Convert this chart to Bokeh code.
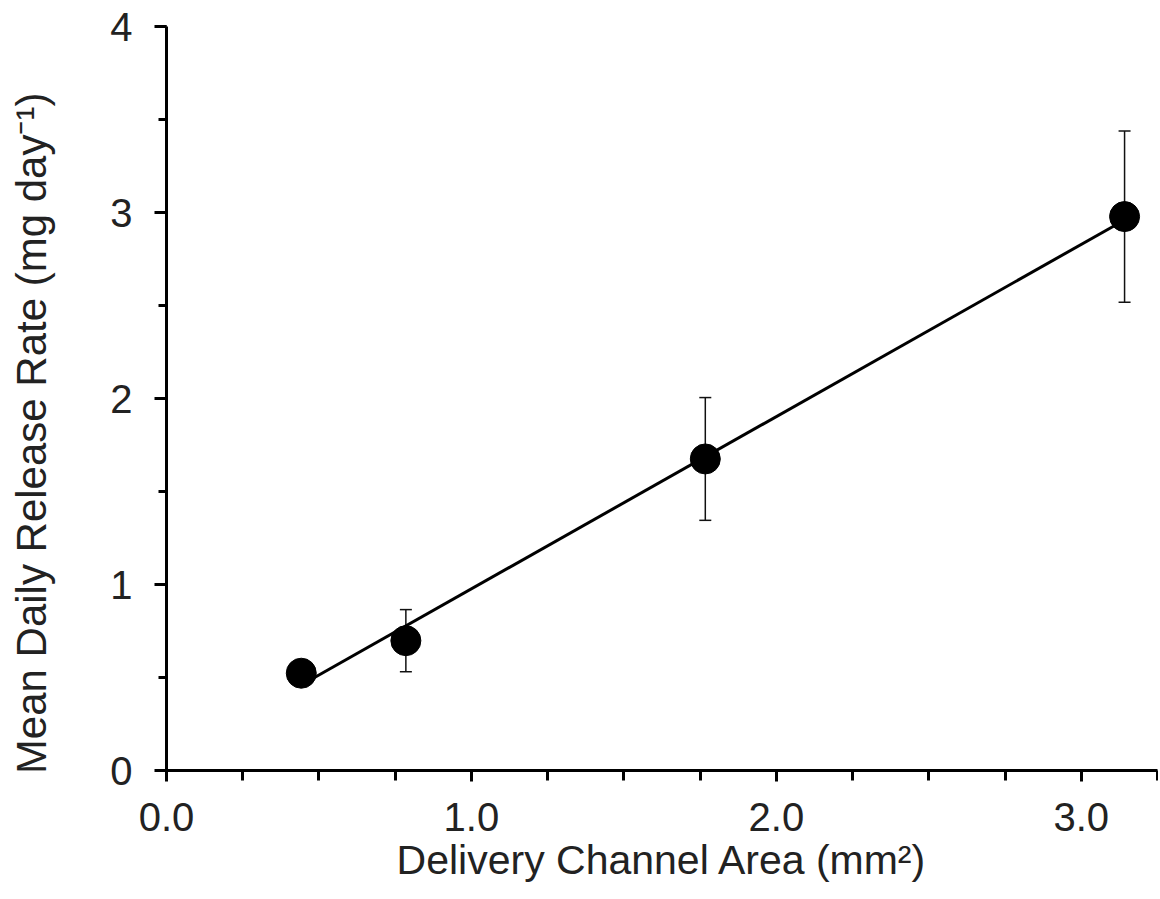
from bokeh.plotting import figure
from bokeh.layouts import row
from bokeh.models import (ColumnDataSource, Whisker, TeeHead, SingleIntervalTicker,
                          PrintfTickFormatter, Range1d)
from bokeh.core.properties import value
from bokeh.embed import file_html
from bokeh.resources import INLINE

# ---- data ----
area = [0.442, 0.785, 1.767, 3.142]          # delivery channel area, mm^2
rate = [0.523, 0.698, 1.675, 2.978]          # mean daily release rate, mg/day
sd = [0.0, 0.167, 0.330, 0.460]              # error (± value)
fit_x = [0.442, 3.142]                       # regression line ends
fit_y = [0.46, 2.96]
x_label = "Delivery Channel Area (mm\u00b2)"
y_label = "Mean Daily Release Rate (mg day\u207b\u00b9)"

FONT = "Liberation Sans"
TXT = "#222222"
H = 885
LEFT_W = 100

# ---- narrow strip holding the y-axis title (placed as in the reference) ----
t = figure(width=LEFT_W, height=H, output_backend="svg", toolbar_location=None,
           x_range=Range1d(0, LEFT_W), y_range=Range1d(0, H),
           x_axis_location=None, y_axis_location=None,
           min_border_left=0, min_border_right=0, min_border_top=0, min_border_bottom=0)
t.title.visible = False
t.outline_line_color = None
t.xgrid.visible = False
t.ygrid.visible = False
t.text(x=[31], y=[H - 484], text=[y_label], angle=1.5707963, text_align="center",
       text_baseline="middle", text_font=value(FONT), text_font_size="42px",
       text_color=TXT)

# ---- main chart ----
p = figure(width=1158 - LEFT_W, height=H, output_backend="svg", toolbar_location=None,
           x_range=Range1d(0, 3.25), y_range=Range1d(0, 4),
           min_border_left=166 - LEFT_W, min_border_right=1, min_border_top=26,
           min_border_bottom=112)
p.outline_line_color = None
p.xgrid.visible = False
p.ygrid.visible = False
p.background_fill_color = "white"
p.border_fill_color = "white"

# regression line
p.line(fit_x, fit_y, line_color="black", line_width=3)

# error bars (only where an error was visible)
ex = [a for a, s in zip(area, sd) if s > 0]
eu = [r + s for r, s in zip(rate, sd) if s > 0]
el = [r - s for r, s in zip(rate, sd) if s > 0]
esrc = ColumnDataSource(dict(x=ex, upper=eu, lower=el))
w = Whisker(source=esrc, base="x", upper="upper", lower="lower",
            line_color="#111111", line_width=1.5,
            upper_head=TeeHead(size=12, line_width=1.5, line_color="#111111"),
            lower_head=TeeHead(size=12, line_width=1.5, line_color="#111111"))
p.add_layout(w)

# points
p.scatter(area, rate, size=30, marker="circle", fill_color="black", line_color="black")

# axes
for ax in (p.xaxis[0], p.yaxis[0]):
    ax.axis_line_width = 3
    ax.axis_line_color = "black"
    ax.major_tick_line_width = 3
    ax.minor_tick_line_width = 3
    ax.major_tick_line_color = "black"
    ax.minor_tick_line_color = "black"
    ax.major_tick_in = 0
    ax.minor_tick_in = 0
    ax.major_label_text_font = FONT
    ax.major_label_text_font_size = "40px"
    ax.major_label_text_color = TXT
    ax.axis_label_text_font = FONT
    ax.axis_label_text_font_size = "41px"
    ax.axis_label_text_font_style = "normal"
    ax.axis_label_text_color = TXT

p.xaxis[0].ticker = SingleIntervalTicker(interval=1, num_minor_ticks=4)
p.xaxis[0].formatter = PrintfTickFormatter(format="%.1f")
p.xaxis[0].major_tick_out = 11
p.xaxis[0].minor_tick_out = 10
p.xaxis[0].major_label_standoff = 21
p.xaxis[0].axis_label = x_label
p.xaxis[0].axis_label_standoff = 3

p.yaxis[0].ticker = SingleIntervalTicker(interval=1, num_minor_ticks=2)
p.yaxis[0].formatter = PrintfTickFormatter(format="%d")
p.yaxis[0].major_tick_out = 12
p.yaxis[0].minor_tick_out = 8
p.yaxis[0].major_label_standoff = 22

layout = row(t, p)
open("out.html", "w").write(file_html(layout, INLINE))
